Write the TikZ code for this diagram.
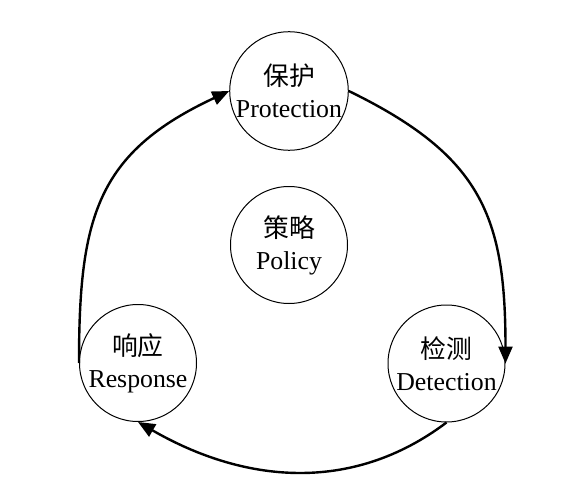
\documentclass[tikz,border=0pt]{standalone}
\usepackage{fontspec}
\setmainfont{Liberation Serif}
\newfontfamily\cjk{Noto Sans CJK SC}
\usetikzlibrary{arrows.meta}

\begin{document}
\begin{tikzpicture}[x=.5pt, y=.5pt, >={Triangle[length=8.5pt,width=7pt]},
	stage/.style={draw, circle, line width=.5pt, minimum size=58.5pt, inner sep=0pt,
		align=center, font=\fontsize{12.9}{16}\selectfont},
	flow/.style={->, line width=1.2pt, looseness=1.2}]
	\useasboundingbox (0,0) rectangle (569,478);
	% the four stages
	\node[stage] (prot) at (289,387) {{\cjk 保护}\\Protection};
	\node[stage] (pol) at (289,233) {{\cjk 策略}\\Policy};
	\node[stage] (resp) at (138,115) {{\cjk 响应}\\Response};
	\node[stage] (det) at (446.5,114.5) {{\cjk 检测}\\Detection};
	% the cycle
	\draw[flow] (prot.east) to[out=-26, in=90] (det.east);
	\draw[flow, looseness=1] (det.south) to[out=217, in=-30] (resp.south);
	\draw[flow] (resp.west) to[out=90, in=205] (prot.west);
\end{tikzpicture}
\end{document}
